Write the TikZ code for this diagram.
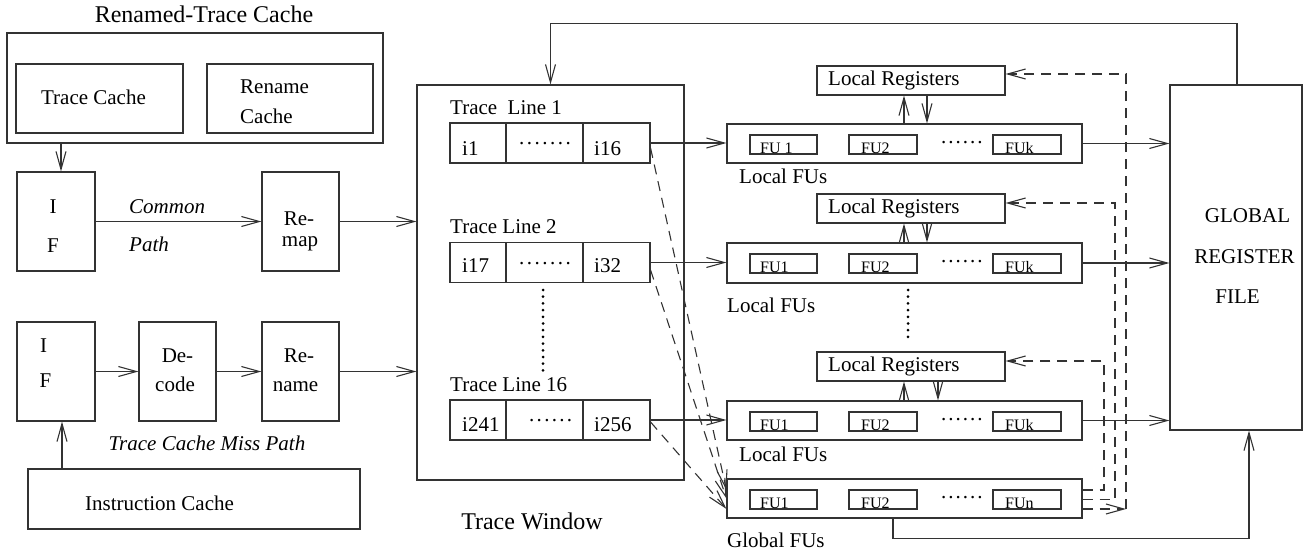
\documentclass[tikz,border=0pt]{standalone}
\usepackage{fontspec}
\setmainfont{Liberation Serif}
\usetikzlibrary{arrows.meta}
\newcommand\rowdots{.\kern2.5pt.\kern2.5pt.\kern2.5pt.\kern2.5pt.\kern2.5pt.\kern2.5pt.}
\newcommand\rowdotssix{.\kern2.3pt.\kern2.3pt.\kern2.3pt.\kern2.3pt.\kern2.3pt.}
\newcommand\fudots{.\kern2pt.\kern2pt.\kern2pt.\kern2pt.\kern2pt.}
\begin{document}
\begin{tikzpicture}[x=1pt,y=-1pt, font=\fontsize{21}{25}\selectfont,
  box/.style={draw=black!80, line width=1.1pt, inner sep=0pt, rectangle},
  txt/.style={inner sep=0pt, anchor=base},
  txtl/.style={inner sep=0pt, anchor=base west},
  fut/.style={inner sep=0pt, anchor=base west, font=\fontsize{16}{19}\selectfont},
  big/.style={font=\fontsize{24}{28}\selectfont},
  it/.style={font=\fontsize{21}{25}\selectfont\itshape},
  arr/.style={draw=black!80, line width=1.1pt, -{Straight Barb[length=18pt,width=10pt]}},
  dsh/.style={arr, dash pattern=on 10pt off 7pt},
  vdots/.style={draw=black, line width=3pt, line cap=round, dash pattern=on 0pt off 6.7pt}]
\useasboundingbox (0,0) rectangle (1304,554);

% ---------- Renamed-Trace Cache ----------
\node[txt, big] (rtclbl) at (204,23) {Renamed-Trace Cache};
\node[box, minimum width=376pt, minimum height=110pt] (rtc) at (195,88) {};
\node[box, minimum width=167pt, minimum height=69pt] (tc) at (99.5,98.5) {};
\node[box, minimum width=166pt, minimum height=69pt] (rc) at (290,98.5) {};
\node[txt] (tctxt) at (93.5,104) {Trace Cache};
\node[txtl] (rctxt1) at (240,93) {Rename};
\node[txtl] (rctxt2) at (240,123) {Cache};

% ---------- Common path ----------
\node[box, minimum width=78pt, minimum height=99pt] (if1) at (56,221.5) {};
\node[txt] (if1i) at (53,213) {I};
\node[txt] (if1f) at (53,252) {F};
\node[box, minimum width=77pt, minimum height=99pt] (remap) at (300.5,221.5) {};
\node[txt] (remap1) at (299,225) {Re-};
\node[txt] (remap2) at (300,246) {map};
\node[txtl, it] (common) at (129,213) {Common};
\node[txtl, it] (path) at (129,251) {Path};

% ---------- Miss path ----------
\node[box, minimum width=78pt, minimum height=99pt] (if2) at (56,371.5) {};
\node[txt] (if2i) at (43.5,352) {I};
\node[txt] (if2f) at (45.5,387) {F};
\node[box, minimum width=77pt, minimum height=99pt] (decode) at (177.5,371.5) {};
\node[txt] (dec1) at (177.5,362) {De-};
\node[txt] (dec2) at (175,391) {code};
\node[box, minimum width=77pt, minimum height=99pt] (rename) at (300.5,371.5) {};
\node[txt] (ren1) at (299,362) {Re-};
\node[txt] (ren2) at (295.5,391) {name};
\node[txt, it] (misslbl) at (207,450) {Trace Cache Miss Path};
\node[box, minimum width=332pt, minimum height=60pt] (icache) at (194,499) {};
\node[txtl] (ictxt) at (85,510) {Instruction Cache};

% ---------- Trace window ----------
\node[box, minimum width=267pt, minimum height=395pt] (tw) at (550.5,282.5) {};
\node[txt, big] (twlbl) at (532,529) {Trace Window};

\node[txtl] (tl1) at (450,114) {Trace~~Line 1};
\node[box, minimum width=56pt, minimum height=40pt] (r1a) at (478,143) {};
\node[box, minimum width=77pt, minimum height=40pt] (r1b) at (544.5,143) {};
\node[box, minimum width=67pt, minimum height=40pt] (r1c) at (616.5,143) {};
\node[txtl] (r1at) at (462,155) {i1};
\node[txtl] (r1bt) at (519,144) {\rowdots};
\node[txtl] (r1ct) at (594,155) {i16};

\node[txtl] (tl2) at (450,233) {Trace Line 2};
\node[box, minimum width=56pt, minimum height=40pt] (r2a) at (478,262.5) {};
\node[box, minimum width=77pt, minimum height=40pt] (r2b) at (544.5,262.5) {};
\node[box, minimum width=67pt, minimum height=40pt] (r2c) at (616.5,262.5) {};
\node[txtl] (r2at) at (462,272) {i17};
\node[txtl] (r2bt) at (519,264) {\rowdots};
\node[txtl] (r2ct) at (594,272) {i32};

\draw[vdots] (543,290) -- (543,372);

\node[txtl] (tl16) at (450,391) {Trace Line 16};
\node[box, minimum width=56pt, minimum height=40pt] (r3a) at (478,420) {};
\node[box, minimum width=77pt, minimum height=40pt] (r3b) at (544.5,420) {};
\node[box, minimum width=67pt, minimum height=40pt] (r3c) at (616.5,420) {};
\node[txtl] (r3at) at (462,431) {i241};
\node[txtl] (r3bt) at (529,421) {\rowdotssix};
\node[txtl] (r3ct) at (594,431) {i256};

% ---------- Local registers ----------
\node[box, minimum width=188pt, minimum height=29pt] (lr1) at (911,80.5) {};
\node[txtl] (lr1t) at (828,85) {Local Registers};
\node[box, minimum width=188pt, minimum height=29pt] (lr2) at (911,208.5) {};
\node[txtl] (lr2t) at (828,213) {Local Registers};
\node[box, minimum width=188pt, minimum height=29pt] (lr3) at (911,366.5) {};
\node[txtl] (lr3t) at (828,371) {Local Registers};

% ---------- FU clusters ----------
% cluster 1
\node[box, minimum width=355pt, minimum height=39pt] (lfu1) at (904.5,143.5) {};
\node[box, minimum width=67pt, minimum height=19pt] (l1f1) at (783.5,144.5) {};
\node[box, minimum width=68pt, minimum height=19pt] (l1f2) at (883,144.5) {};
\node[box, minimum width=68pt, minimum height=19pt] (l1fk) at (1027,144.5) {};
\node[fut] (l1f1t) at (760,153.5) {FU 1};
\node[fut] (l1f2t) at (861,153.5) {FU2};
\node[txtl] (l1dt) at (941,143) {\fudots};
\node[fut] (l1fkt) at (1005,153.5) {FUk};
\node[txtl] (lfu1lbl) at (739,183) {Local FUs};
% cluster 2
\node[box, minimum width=355pt, minimum height=40pt] (lfu2) at (904.5,263) {};
\node[box, minimum width=67pt, minimum height=19pt] (l2f1) at (783.5,263.5) {};
\node[box, minimum width=68pt, minimum height=19pt] (l2f2) at (883,263.5) {};
\node[box, minimum width=68pt, minimum height=19pt] (l2fk) at (1027,263.5) {};
\node[fut] (l2f1t) at (760,272.5) {FU1};
\node[fut] (l2f2t) at (861,272.5) {FU2};
\node[txtl] (l2dt) at (941,262) {\fudots};
\node[fut] (l2fkt) at (1005,272.5) {FUk};
\node[txtl] (lfu2lbl) at (727,312) {Local FUs};

\draw[vdots] (908,290) -- (908,341);

% cluster 3
\node[box, minimum width=355pt, minimum height=39pt] (lfu3) at (904.5,420.5) {};
\node[box, minimum width=67pt, minimum height=19pt] (l3f1) at (783.5,421.5) {};
\node[box, minimum width=68pt, minimum height=19pt] (l3f2) at (883,421.5) {};
\node[box, minimum width=68pt, minimum height=19pt] (l3fk) at (1027,421.5) {};
\node[fut] (l3f1t) at (760,430.5) {FU1};
\node[fut] (l3f2t) at (861,430.5) {FU2};
\node[txtl] (l3dt) at (941,420) {\fudots};
\node[fut] (l3fkt) at (1005,430.5) {FUk};
\node[txtl] (lfu3lbl) at (739,461) {Local FUs};
% global
\node[box, minimum width=355pt, minimum height=39pt] (gfu) at (904.5,498.5) {};
\node[box, minimum width=67pt, minimum height=19pt] (g1) at (783.5,499.5) {};
\node[box, minimum width=68pt, minimum height=19pt] (g2) at (883,499.5) {};
\node[box, minimum width=68pt, minimum height=19pt] (gn) at (1027,499.5) {};
\node[fut] (g1t) at (760,508.5) {FU1};
\node[fut] (g2t) at (861,508.5) {FU2};
\node[txtl] (gdt) at (941,498) {\fudots};
\node[fut] (gnt) at (1005,508.5) {FUn};
\node[txtl] (gfulbl) at (727,547) {Global FUs};

% ---------- Global register file ----------
\node[box, minimum width=132pt, minimum height=345pt] (grf) at (1236,257.5) {};
\node[txt] (grf1) at (1247.5,222) {GLOBAL};
\node[txt] (grf2) at (1244.5,263) {REGISTER};
\node[txt] (grf3) at (1237.5,303) {FILE};

% ---------- connectors ----------
\draw[arr] ([xshift=5pt]if1.north |- rtc.south) -- ([xshift=5pt]if1.north);
\draw[arr] (if1.east) -- (remap.west);
\draw[arr] (remap.east) -- (remap.east -| tw.west);
\draw[arr] (if2.east) -- (decode.west);
\draw[arr] (decode.east) -- (rename.west);
\draw[arr] (rename.east) -- (rename.east -| tw.west);
\draw[arr] ([xshift=6pt]if2.south |- icache.north) -- ([xshift=6pt]if2.south);

\draw[arr] (r1c.east) -- (r1c.east -| lfu1.west);
\draw[arr] (r2c.east) -- (r2c.east -| lfu2.west);
\draw[arr] (r3c.east) -- (r3c.east -| lfu3.west);

\draw[dsh] ([yshift=-5pt]r1c.east) -- ([yshift=8.5pt]gfu.west);
\draw[dsh] ([yshift=-7.5pt]r2c.east) -- ([yshift=0pt]gfu.west);
\draw[dsh] ([yshift=-2pt]r3c.east) -- ([yshift=-10.5pt]gfu.west);

\draw[arr] ([xshift=-0.5pt]lfu1.north) -- ([xshift=-0.5pt]lfu1.north |- lr1.south);
\draw[arr] ([xshift=16pt]lr1.south) -- ([xshift=16pt]lr1.south |- lfu1.north);
\draw[arr] ([xshift=-0.5pt]lfu2.north) -- ([xshift=-0.5pt]lfu2.north |- lr2.south);
\draw[arr] ([xshift=16pt]lr2.south) -- ([xshift=16pt]lr2.south |- lfu2.north);
\draw[arr] ([xshift=-0.5pt]lfu3.north) -- ([xshift=-0.5pt]lfu3.north |- lr3.south);
\draw[arr] ([xshift=27pt]lr3.south) -- ([xshift=27pt]lr3.south |- lfu3.north);

\draw[arr] (lfu1.east) -- (lfu1.east -| grf.west);
\draw[arr] (lfu2.east) -- (lfu2.east -| grf.west);
\draw[arr] (lfu3.east) -- (lfu3.east -| grf.west);

\coordinate (d1) at (1126,509);
\coordinate (d2) at (1115,499.5);
\coordinate (d3) at (1104,490);
\coordinate (c1) at (1126,74);
\coordinate (c2) at (1115,203);
\coordinate (c3) at (1104,361);
\draw[dsh] (gfu.east |- d1) -- (d1);
\draw[dsh] (d1) -- (c1) -- (lr1.east |- c1);
\draw[dsh] (gfu.east |- d2) -- (d2) -- (c2) -- (lr2.east |- c2);
\draw[dsh] (gfu.east |- d3) -- (d3) -- (c3) -- (lr3.east |- c3);

\draw[arr] ([xshift=1pt]grf.north) -- ++(0,-61) -| (tw.north);
\draw[arr] ([xshift=-11.5pt]gfu.south) -- ++(0,20) -| ([xshift=13pt]grf.south);
\end{tikzpicture}
\end{document}
